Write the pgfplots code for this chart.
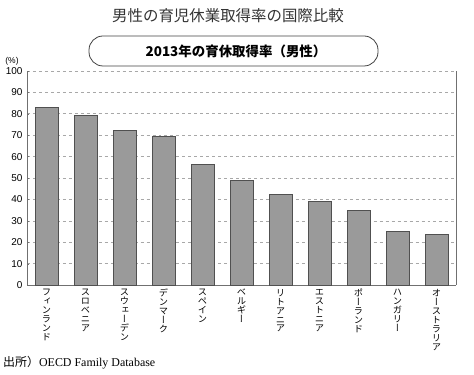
\documentclass[border=0pt]{standalone}
\usepackage{fontspec}
\usepackage{pgfplots}
\pgfplotsset{compat=1.18}
\setmainfont{Liberation Serif}
\setsansfont{Liberation Sans}
\newfontfamily\cjk{Noto Sans CJK JP}
\newfontfamily\cjkv[RawFeature=+vert]{Noto Sans CJK JP}
\definecolor{barfill}{HTML}{9A9A9A}
\definecolor{baredge}{HTML}{505050}
\definecolor{gridc}{HTML}{A8A8A8}
\definecolor{axisc}{HTML}{707070}
\begin{document}
\begin{tikzpicture}
\useasboundingbox (0,0) rectangle (474bp,375bp);
\begin{axis}[
  at={(27bp,90bp)}, anchor=south west,
  scale only axis, width=429bp, height=214bp,
  xmin=-0.5, xmax=10.5, ymin=0, ymax=100,
  axis x line*=bottom,
  axis line style={axisc, line width=0.8pt},
  ytick={0,10,...,100},
  ymajorgrids,
  grid style={gridc, dashed, line width=0.6pt},
  ytick pos=left,
  y tick style={axisc},
  major tick length=2.5bp,
  yticklabel style={font=\sffamily\fontsize{10}{12}\selectfont, xshift=-1bp},
  /pgf/number format/assume math mode=true,
  xtick={0,...,10},
  xtick style={draw=none},
  minor xtick={0.5,1.5,...,9.5},
  minor x tick style={axisc, line width=0.8pt},
  minor tick length=3bp,
  xticklabels={
    {フ\\ィ\\ン\\ラ\\ン\\ド},
    {ス\\ロ\\ベ\\ニ\\ア},
    {ス\\ウ\\ェ\\ー\\デ\\ン},
    {デ\\ン\\マ\\ー\\ク},
    {ス\\ペ\\イ\\ン},
    {ベ\\ル\\ギ\\ー},
    {リ\\ト\\ア\\ニ\\ア},
    {エ\\ス\\ト\\ニ\\ア},
    {ポ\\ー\\ラ\\ン\\ド},
    {ハ\\ン\\ガ\\リ\\ー},
    {オ\\ー\\ス\\ト\\ラ\\リ\\ア}},
  xticklabel style={font=\cjkv\fontsize{9.3}{9}\selectfont, align=center, anchor=north, inner sep=1bp, yshift=-3bp},
  clip=false,
]
\addplot[ybar, bar width=23bp, fill=barfill, draw=baredge, line width=0.8pt] coordinates {
  (0,82.9) (1,79.1) (2,72.4) (3,69.3) (4,56.5) (5,48.9)
  (6,42.5) (7,38.9) (8,34.9) (9,25.1) (10,23.7)
};
\end{axis}
\node[font=\cjk\fontsize{15.5}{17}\selectfont, text=black!80] at (228bp,359bp) {男性の育児休業取得率の国際比較};
\draw[black!75, line width=0.8pt, rounded corners=14bp] (89bp,309bp) rectangle (378bp,339bp);
\node[font=\cjk\bfseries\fontsize{13.5}{15}\selectfont] at (236bp,324bp) {2013年の育休取得率（男性）};
\node[font=\sffamily\fontsize{8.5}{10}\selectfont] at (12bp,314bp) {(\%)};
\node[anchor=west, inner sep=0pt, font=\fontsize{12}{14}\selectfont] at (3bp,12bp) {{\cjk 出所）}OECD Family Database};
\end{tikzpicture}
\end{document}
